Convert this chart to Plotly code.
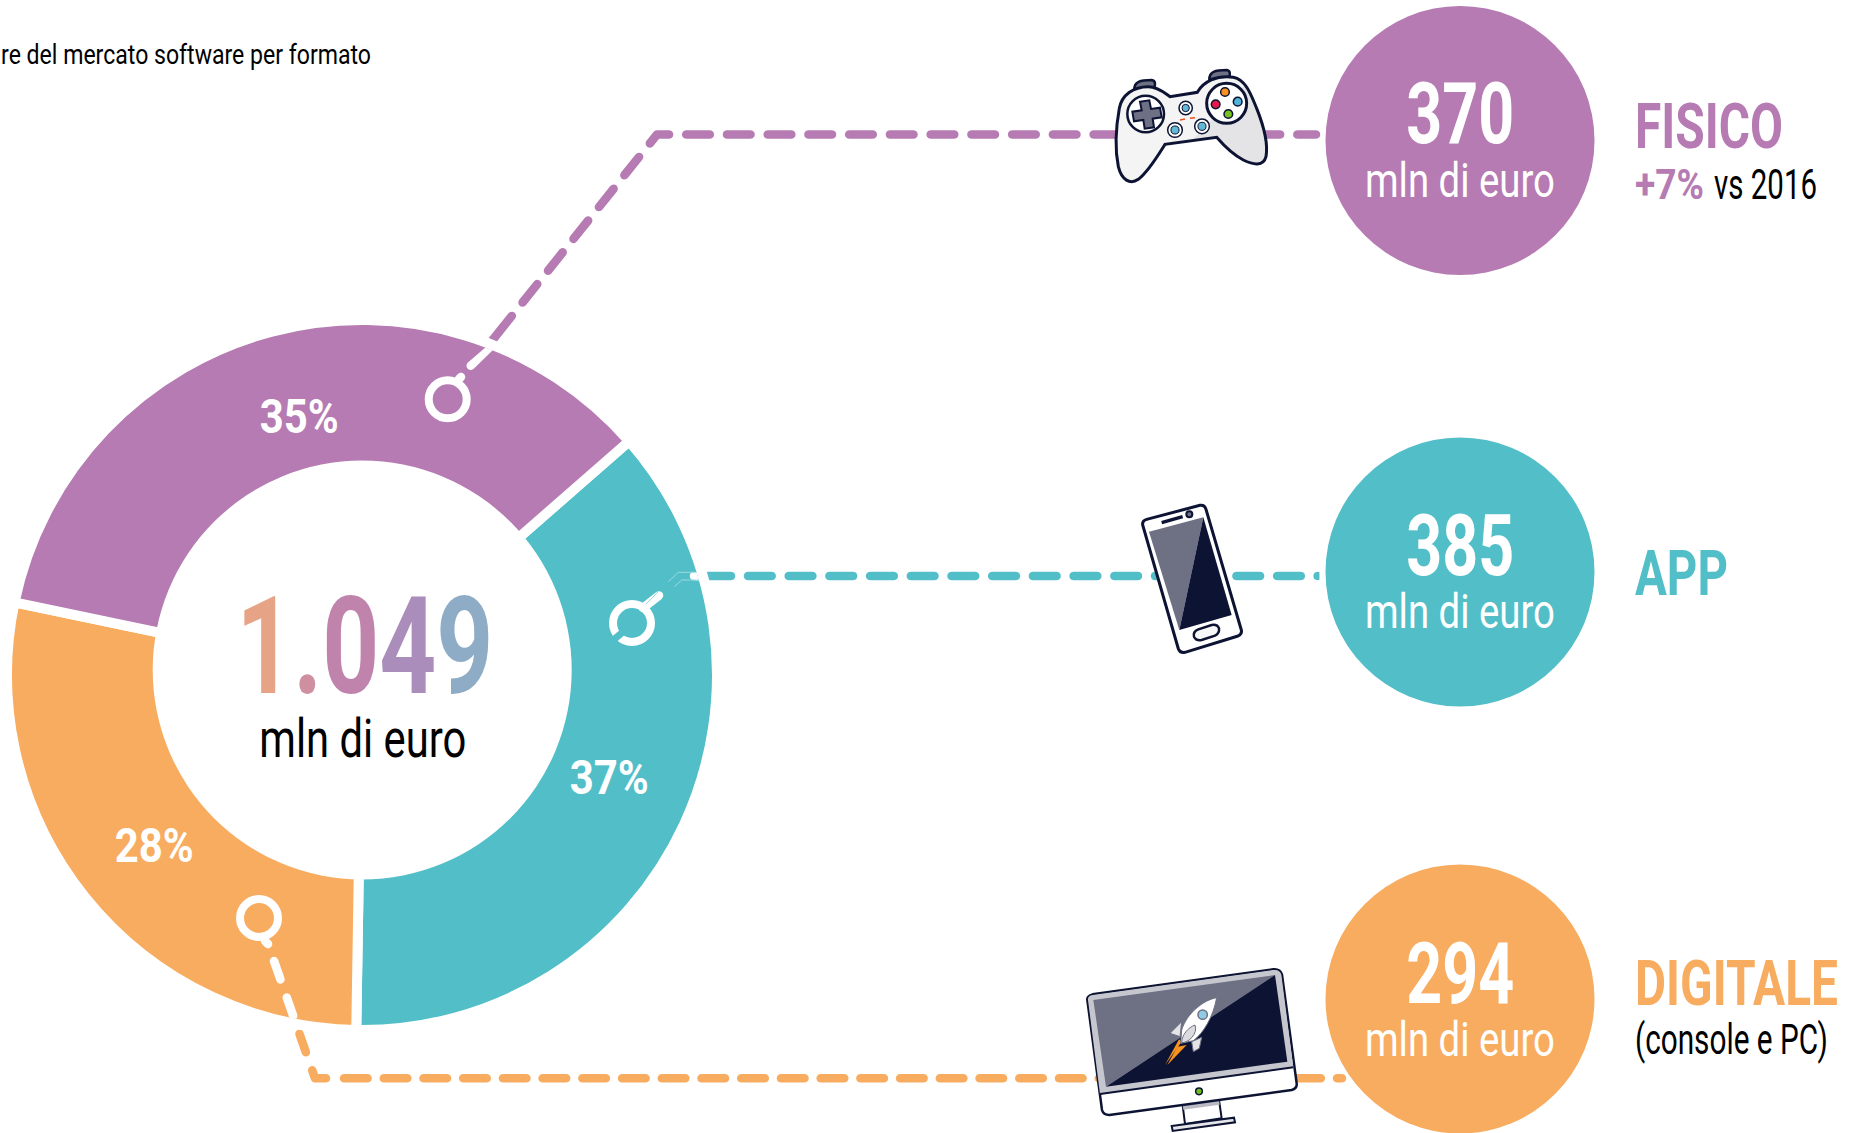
import json, math, re
import plotly.graph_objects as go

W, H = 1859, 1133
FONT = "Roboto"

# ---- data ----
categories = ["APP", "DIGITALE", "FISICO"]
values = [385, 294, 370]
percent_labels = ["37%", "28%", "35%"]
slice_colors = ["#52BEC8", "#F8AC60", "#B57BB2"]
total_label = ["1", ".", "0", "4", "9"]
total_colors = ["#E6A385", "#CF8FA0", "#C083AC", "#AB8DBB", "#8FACC6"]
unit_label = "mln di euro"
subtitle = "re del mercato software per formato"

PURPLE, TEAL, ORANGE = "#B57BB2", "#52BEC8", "#F8AC60"
DARK = "#0D1333"
GREY = "#6E7083"

CX, CY, R_VIS = 362, 675, 350
GAP = 10
R_DOM = R_VIS + GAP / 2
R_HOLE = 190


def X(x):
    return x / W


def Y(y):
    return 1 - y / H


shapes = []


def stadium(p, q, r=4.3, n=6):
    ang = math.atan2(q[1] - p[1], q[0] - p[0])
    pts = []
    for i in range(n + 1):
        a = ang + math.pi / 2 + math.pi * i / n
        pts.append((p[0] + r * math.cos(a), p[1] + r * math.sin(a)))
    for i in range(n + 1):
        a = ang - math.pi / 2 + math.pi * i / n
        pts.append((q[0] + r * math.cos(a), q[1] + r * math.sin(a)))
    return pts


def along(poly, s):
    for a, b in zip(poly, poly[1:]):
        d = math.dist(a, b)
        if s <= d:
            t = s / d
            return (a[0] + (b[0] - a[0]) * t, a[1] + (b[1] - a[1]) * t)
        s -= d
    return poly[-1]


def plength(poly):
    return sum(math.dist(a, b) for a, b in zip(poly, poly[1:]))


def subline(poly, s0, s1):
    pts = [along(poly, s0)]
    acc = 0
    for a, b in zip(poly, poly[1:]):
        acc += math.dist(a, b)
        if s0 < acc < s1:
            pts.append(b)
    pts.append(along(poly, s1))
    return pts


def dashes(poly, period, length, first=None):
    total = plength(poly)
    out = []
    s = 0
    if first is not None:
        out.append((0, first))
        s = first + (period - length)
    while s < total:
        out.append((s, min(s + length, total)))
        s += period
    return [subline(poly, a, b) for a, b in out if b - a > 0.5]


def clip_pts(pts):
    res = []
    for x, y in pts:
        d = math.hypot(x - CX, y - CY)
        if d > R_VIS:
            x = CX + (x - CX) * R_VIS / d
            y = CY + (y - CY) * R_VIS / d
        res.append((x, y))
    return res


def polys_to_path(polys):
    s = ""
    for pts in polys:
        s += "M" + " L".join(f"{X(x):.5f},{Y(y):.5f}" for x, y in pts) + " Z "
    return s


def add_dashes(lines, color, layer="below", clip=False, max_x=None):
    polys = []
    for line in lines:
        for a, b in zip(line, line[1:]):
            if math.dist(a, b) <= 0.01:
                continue
            seg = stadium(a, b)
            if max_x is not None:
                seg = [(min(x, max_x), y) for x, y in seg]
            if clip:
                if all(math.hypot(x - CX, y - CY) > R_VIS for x, y in seg):
                    continue
                seg = clip_pts(seg)
            polys.append(seg)
    if polys:
        shapes.append(dict(type="path", xref="paper", yref="paper", path=polys_to_path(polys),
                           fillcolor=color, fillrule="nonzero", line=dict(width=0), layer=layer))


def circle(cx, cy, r, fill=None, line=None, lw=0, layer="above"):
    shapes.append(dict(type="circle", xref="paper", yref="paper",
                       x0=X(cx - r), x1=X(cx + r), y0=Y(cy + r), y1=Y(cy - r),
                       fillcolor=fill if fill else "rgba(0,0,0,0)",
                       line=dict(color=line if line else "rgba(0,0,0,0)", width=lw), layer=layer))


def icon(path, ox, oy, fill=None, line=None, lw=0, layer="above", scale=1 / 3):
    def rep(m):
        x, y = float(m.group(1)), float(m.group(2))
        return f"{X(ox + x * scale):.5f},{Y(oy + y * scale):.5f}"
    p = re.sub(r"(-?\d+\.?\d*),(-?\d+\.?\d*)", rep, path)
    shapes.append(dict(type="path", xref="paper", yref="paper", path=p,
                       fillcolor=fill if fill else "rgba(0,0,0,0)",
                       line=dict(color=line if line else "rgba(0,0,0,0)", width=lw), layer=layer))


def zcircle(cx, cy, r, ox, oy, fill=None, line=None, lw=0):
    circle(ox + cx / 3, oy + cy / 3, r / 3, fill, line, lw)


# off-centre hole of the ring
circle(362.2, 670, 209.5, fill="white")

# ---- connector lines ----
u = (-0.6247, 0.7807)
pc = (657, 134.5)
pstart = (pc[0] + u[0] * 268, pc[1] + u[1] * 268)
add_dashes(dashes([pstart, pc, (1316, 134.5)], 40.74, 23.6, first=35.6), PURPLE)
add_dashes([[(470.7, 365.7), (pstart[0] + 3, pstart[1] - 4)]], "white", layer="above", clip=True)
add_dashes([[(459, 379), (461, 377)]], "white", layer="above")

add_dashes(dashes([(707.3, 576), (1316, 576)], 40.7, 23.7), TEAL)
add_dashes([[(1317.6, 576), (1317.7, 576)]], TEAL, max_x=1319.4)

o_poly = [(274, 961), (315, 1078.3), (327, 1078.3)]
add_dashes(dashes(o_poly, 38.6, 19.5), ORANGE)
add_dashes(dashes([(344, 1078.3), (1342, 1078.3)], 39.72, 23.6), ORANGE)
add_dashes(dashes(o_poly, 38.6, 19.5), "white", layer="above", clip=True)
add_dashes([[(265, 941), (268, 944)]], "white", layer="above")

# teal: white stub, tip and faint outline
add_dashes([[(643, 608), (659, 595.5)]], "white", layer="above")
add_dashes([[(694, 576), (700, 576)]], "white", layer="above", clip=True)
icon("M 265,95 L 295,67 L 345,67", 580, 550, line="#9ADAE0", lw=1)
icon("M 283,110 L 305,90 L 355,90", 580, 550, line="#9ADAE0", lw=1)
icon("M 190,170 L 235,125", 580, 550, line="#9ADAE0", lw=1)

# rings
circle(447.7, 399.3, 19, line="white", lw=8)
circle(632, 623, 19, line="white", lw=8)
icon("M 100,270 L 130,245", 580, 550, line=TEAL, lw=7)
circle(259, 918, 19, line="white", lw=8)

# ---- big circles ----
circle(1460, 140.5, 134.5, fill=PURPLE, layer="above")
circle(1460, 572, 134.5, fill=TEAL, layer="above")
circle(1460, 999, 134.5, fill=ORANGE, layer="above")

# ---- gamepad ----
gx, gy = 1080, 40
icon("M 163,148 C 163,125 180,120 215,120 C 228,122 226,135 222,145 Z", gx, gy, fill=GREY, line=DARK, lw=2.5)
icon("M 388,118 C 388,95 405,90 440,90 C 452,92 450,102 448,112 Z", gx, gy, fill=GREY, line=DARK, lw=2.5)
body = ("M 118,205 C 125,165 160,140 205,140 C 235,140 255,160 270,170 L 352,157 "
        "C 370,125 410,105 460,112 C 500,120 515,170 530,205 C 550,255 565,310 558,350 "
        "C 550,380 520,375 490,360 C 460,345 430,315 410,292 L 255,313 "
        "C 235,345 205,395 175,418 C 150,435 125,420 115,380 C 105,330 108,260 118,205 Z")
icon(body, gx, gy, fill="#F4F4F4")
icon("M 500,130 C 520,170 565,300 558,350 C 550,380 520,375 490,360 C 460,345 430,315 410,292 L 335,302 Z",
     gx, gy, fill="#E4E4E6")
icon(body, gx, gy, line=DARK, lw=3)
zcircle(197, 222, 55, gx, gy, fill="white", line=DARK, lw=2.5)
icon("M 180,185 L 208,181 L 213,207 L 240,203 L 245,232 L 218,236 L 222,262 L 194,266 L 190,240 L 162,244 L 157,215 L 185,211 Z",
     gx, gy, fill=GREY, line=DARK, lw=2)
zcircle(440, 190, 60, gx, gy, fill="white", line=DARK, lw=3)
for bx, by, col in [(435, 156, "#F7931E"), (473, 185, "#4FB3D9"), (445, 222, "#7AC11F"), (407, 193, "#E8174B")]:
    zcircle(bx, by, 13, gx, gy, fill=col, line=DARK, lw=1.5)
for bx, by, r in [(317, 204, 20), (285, 270, 22), (366, 259, 22)]:
    zcircle(bx, by, r, gx, gy, fill="white", line=DARK, lw=1.5)
    zcircle(bx, by, r * 0.55, gx, gy, fill="#63B8D8", line=DARK, lw=1)
icon("M 300,240 L 315,237", gx, gy, line="#F04E23", lw=1.5)
icon("M 330,235 L 345,233", gx, gy, line="#F04E23", lw=1.5)

# ---- phone ----
px_, py_ = 1120, 490
icon("M 68,105 Q 66,92 80,88 L 240,46 Q 254,44 258,58 L 364,420 Q 367,432 354,438 L 195,487 Q 180,490 175,476 Z",
     px_, py_, fill="white", line=DARK, lw=3)
icon("M 87,125 L 250,82 L 178,420 Z", px_, py_, fill=GREY)
icon("M 250,82 L 335,375 L 178,420 Z", px_, py_, fill=DARK)
icon("M 125,98 L 188,80", px_, py_, line=DARK, lw=3.5)
zcircle(208, 73, 9, px_, py_, fill=GREY, line=DARK, lw=2)
icon("M 222,440 Q 218,425 235,418 L 275,405 Q 292,402 297,415 Q 299,430 285,437 L 245,450 Q 228,453 222,440 Z",
     px_, py_, fill="#F8F8F8", line=DARK, lw=2.5)

# ---- monitor ----
mx, my = 1070, 950
icon("M 338,465 L 447,450 L 455,505 L 345,522 Z", mx, my, fill="white", line=DARK, lw=2)
icon("M 338,465 L 447,450 L 449,464 L 340,479 Z", mx, my, fill="#B9BAC2")
icon("M 305,528 L 492,503 L 495,517 L 308,543 Z", mx, my, fill="#E6E6EA", line=DARK, lw=2)
icon("M 52,150 Q 50,138 68,133 L 610,58 Q 630,56 636,74 L 680,400 Q 682,415 665,420 L 118,495 Q 100,495 96,480 Z",
     mx, my, fill="white", line=DARK, lw=2.5)
icon("M 54,150 Q 52,138 68,135 L 610,60 Q 630,58 634,74 L 670,352 L 90,432 Z", mx, my, fill="#C6C7CE")
icon("M 90,432 L 670,352", mx, my, line=DARK, lw=2)
icon("M 70,150 L 615,75 L 108,410 Z", mx, my, fill=GREY)
icon("M 615,75 L 652,335 L 108,410 Z", mx, my, fill=DARK)
zcircle(387, 424, 10, mx, my, fill="#6FBE1E", line=DARK, lw=1.5)
icon("M 327,268 L 285,345 L 335,275 Z", mx, my, fill="#F7931E")
icon("M 350,285 L 292,345 L 322,290 Z", mx, my, fill="#F7931E")
icon("M 335,215 L 300,250 L 330,260 Z", mx, my, fill="#E4E4E6", line=GREY, lw=1)
icon("M 395,262 L 388,295 L 370,305 L 365,275 Z", mx, my, fill="#E4E4E6", line=GREY, lw=1)
icon("M 440,143 C 400,150 350,190 335,240 L 332,280 L 370,272 C 400,250 430,200 440,143 Z",
     mx, my, fill="white", line=GREY, lw=1)
icon("M 375,225 C 355,232 335,255 335,278 C 355,280 385,250 375,225 Z", mx, my, fill="#DCDCE0", line=GREY, lw=1)
zcircle(398, 194, 14, mx, my, fill="#8FCBE3", line=GREY, lw=1.5)

# ---- texts ----
ann = []
fit = []  # rendered width of each text, used to condense it as in the reference


def text(x, y, s, size, color="black", anchor="center", bold=False, width=None):
    if bold:
        s = f"<b>{s}</b>"
    ann.append(dict(x=X(x), y=Y(y), xref="paper", yref="paper", text=s, showarrow=False,
                    xanchor=anchor, yanchor="middle", font=dict(family=FONT, size=size, color=color),
                    borderpad=0))
    fit.append(dict(w=width, a=anchor))


text(372, 55, subtitle, 28, anchor="right", width=370)
grad = "".join(f'<span style="color:{c}">{t}</span>' for t, c in zip(total_label, total_colors))
text(365, 646, grad, 136, bold=True, width=257)
text(363, 738, unit_label, 54, width=207)
for s, x, y in zip(percent_labels, [609, 154, 299], [778, 845, 417]):
    text(x, y, s, 49, "white", bold=True, width=79)

for val, y in [("370", 114), ("385", 546), ("294", 974)]:
    text(1460, y, val, 85, "white", bold=True, width=108)
for y in [180, 611, 1039]:
    text(1460, y, unit_label, 48, "white", width=190)

text(1634, 126, "FISICO", 63, PURPLE, anchor="left", bold=True, width=148)
text(1634, 184, "+7%", 43, PURPLE, anchor="left", bold=True, width=69)
text(1713, 184, "vs 2016", 43, "black", anchor="left", width=103)
text(1634, 573, "APP", 63, TEAL, anchor="left", bold=True, width=93)
text(1634, 983, "DIGITALE", 63, ORANGE, anchor="left", bold=True, width=203)
text(1634, 1039, "(console e PC)", 43, "black", anchor="left", width=193)

fig = go.Figure(go.Pie(
    labels=categories, values=values, sort=False, direction="clockwise", rotation=48.8,
    hole=R_HOLE / R_DOM, textinfo="none", hoverinfo="skip",
    marker=dict(colors=slice_colors, line=dict(color="white", width=GAP)),
    domain=dict(x=[X(CX - R_DOM), X(CX + R_DOM)], y=[Y(CY + R_DOM), Y(CY - R_DOM)]),
    showlegend=False,
))
fig.update_layout(width=W, height=H, margin=dict(l=0, r=0, t=0, b=0), autosize=False,
                  paper_bgcolor="white", plot_bgcolor="white", showlegend=False,
                  shapes=shapes, annotations=ann)

post = """
document.body.style.margin='0';document.body.style.overflow='hidden';
var FIT=%s;
function condense(){
  document.querySelectorAll('.annotation').forEach(function(g){
    var i=+g.getAttribute('data-index'), f=FIT[i], t=g.querySelector('.annotation-text');
    if(!f||!t||!f.w) return;
    var b=t.getBBox(); if(!b.width) return;
    var s=f.w/b.width;
    var ax=f.a==='left'?b.x:(f.a==='right'?b.x+b.width:b.x+b.width/2);
    t.setAttribute('transform','translate('+ax+',0) scale('+s+',1) translate('+(-ax)+',0)');
  });
}
condense();setTimeout(condense,50);setTimeout(condense,300);
if(document.fonts&&document.fonts.ready){document.fonts.ready.then(condense);}
""" % json.dumps(fit)
fig.write_html("out.html", config=dict(displayModeBar=False), post_script=post)
